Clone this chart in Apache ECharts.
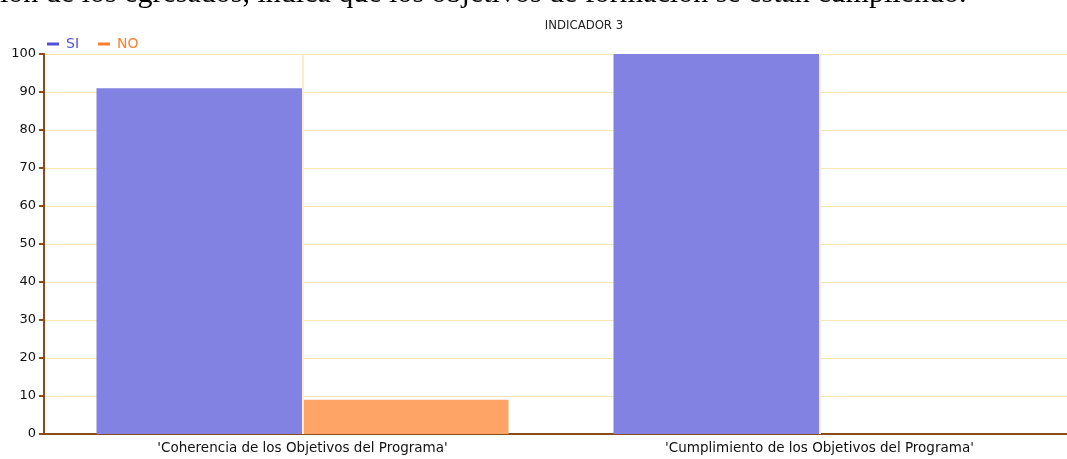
<!DOCTYPE html>
<html><head><meta charset="utf-8">
<script src="https://cdn.jsdelivr.net/npm/echarts@6/dist/echarts.min.js"></script>
<style>html,body{margin:0;padding:0;background:#fff;overflow:hidden;width:1067px;height:459px}#c{width:1078px;height:459px}</style>
</head><body><div id="c"></div>
<script>
const categories = ["'Coherencia de los Objetivos del Programa'", "'Cumplimiento de los Objetivos del Programa'"];
const siValues = [91, 100];
const noValues = [9, 0];
const yTicks = [0, 10, 20, 30, 40, 50, 60, 70, 80, 90, 100];
const titleText = 'INDICADOR 3';
const pageText = 'ión de los egresados, indica que los objetivos de formación se están cumpliendo.';

const chart = echarts.init(document.getElementById('c'));
const grid = '#f7e6b8';
const brown = '#8b4a1c';
chart.setOption({
  animation: false,
  backgroundColor: '#fff',
  title: {text: titleText, left: 579, top: 14, textAlign: 'center',
    textStyle: {fontFamily: 'DejaVu Sans Condensed', fontSize: 13, fontWeight: 'normal', color: '#222'}},
  legend: {left: 42, top: 32, itemWidth: 12, itemHeight: 3, itemGap: 19, icon: 'rect',
    data: [{name: 'SI', itemStyle: {color: '#5050dd', borderWidth: 0}, textStyle: {color: '#5050dd'}},
           {name: 'NO', itemStyle: {color: '#ff7f2a', borderWidth: 0}, textStyle: {color: '#ff7f2a'}}],
    textStyle: {fontFamily: 'DejaVu Sans', fontSize: 14, padding: [0, 0, 0, 2]}},
  grid: {left: 44, top: 54, right: 0, height: 380, containLabel: false},
  graphic: [{type: 'text', left: 0, top: -21, silent: true,
    style: {text: pageText, font: '30px "Liberation Serif"', fill: '#000'}}],
  xAxis: {type: 'category', data: categories,
    axisLine: {lineStyle: {color: brown, width: 2}},
    axisTick: {alignWithLabel: true, length: 5, lineStyle: {color: brown, width: 2}},
    axisLabel: {fontFamily: 'DejaVu Sans', fontSize: 13.5, color: '#111', margin: 7},
    splitLine: {show: false}},
  yAxis: {type: 'value', min: 0, max: 100, interval: 10,
    axisLine: {show: true, lineStyle: {color: brown, width: 2}},
    axisTick: {show: true, length: 5, lineStyle: {color: brown, width: 2}},
    axisLabel: {fontFamily: 'DejaVu Sans', fontSize: 13, color: '#111', margin: 8,
      formatter: v => yTicks.includes(v) ? String(v) : ''},
    splitLine: {lineStyle: {color: grid, width: 1}}},
  series: [
    {name: 'SI', type: 'bar', data: siValues, barWidth: 206, barGap: '0%',
      itemStyle: {color: '#8282e2'}},
    {name: 'NO', type: 'bar', data: noValues, barWidth: 206,
      itemStyle: {color: '#fda466'}},
    {name: 'guide', type: 'line', data: [], z: 5,
      markLine: {silent: true, symbol: 'none', label: {show: false},
        lineStyle: {color: '#fbecd2', width: 2, type: 'solid'},
        data: [{xAxis: 0}, {xAxis: 1}]}}
  ]
});
</script></body></html>
